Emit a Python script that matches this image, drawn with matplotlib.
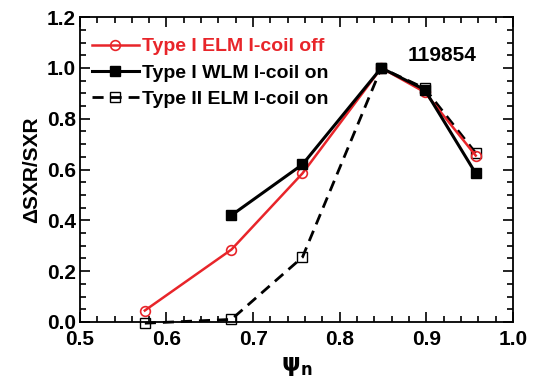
import matplotlib
matplotlib.use("Agg")
import matplotlib.pyplot as plt
from matplotlib.ticker import MultipleLocator, FormatStrFormatter

# data
psi_off = [0.575, 0.675, 0.757, 0.848, 0.898, 0.957]
dsxr_off = [0.045, 0.285, 0.585, 1.0, 0.905, 0.655]

psi_wlm = [0.675, 0.757, 0.848, 0.898, 0.957]
dsxr_wlm = [0.42, 0.62, 1.0, 0.915, 0.585]

psi_t2 = [0.575, 0.675, 0.757, 0.848, 0.898, 0.957]
dsxr_t2 = [-0.005, 0.01, 0.255, 1.0, 0.92, 0.665]

plt.rcParams["font.family"] = ["Liberation Sans", "DejaVu Sans"]
plt.rcParams["font.weight"] = "bold"

fig = plt.figure(figsize=(5.36, 3.81), dpi=100)
ax = fig.add_axes([0.149, 0.155, 0.808, 0.80])

ax.plot(psi_off, dsxr_off, color="#e8252a", lw=1.8, marker="o", ms=7,
        mfc="none", mec="#e8252a", mew=1.2, label="Type I ELM I-coil off", zorder=3)
ax.plot(psi_wlm, dsxr_wlm, color="black", lw=2.2, marker="s", ms=7.5,
        label="Type I WLM I-coil on", zorder=4)
ax.plot(psi_t2, dsxr_t2, color="black", lw=2.0, ls=(0, (4, 2.5)), marker="s", ms=6.5,
        mfc="none", mec="black", mew=1.0, label="Type II ELM I-coil on", zorder=2,
        clip_on=False)

ax.set_xlim(0.5, 1.0)
ax.set_ylim(0.0, 1.2)
ax.xaxis.set_major_locator(MultipleLocator(0.1))
ax.xaxis.set_minor_locator(MultipleLocator(0.02))
ax.yaxis.set_major_locator(MultipleLocator(0.2))
ax.yaxis.set_minor_locator(MultipleLocator(0.05))
ax.xaxis.set_major_formatter(FormatStrFormatter("%.1f"))
ax.yaxis.set_major_formatter(FormatStrFormatter("%.1f"))
ax.tick_params(which="both", direction="in", top=True, right=True, width=1.2)
ax.tick_params(which="major", length=7, labelsize=15)
ax.tick_params(axis="x", which="major", pad=6)
ax.tick_params(axis="y", which="major", pad=3)
ax.tick_params(which="minor", length=4)
for s in ax.spines.values():
    s.set_linewidth(1.3)

ax.set_xlabel(r"$\mathbf{\psi}_\mathbf{n}$", fontsize=17, labelpad=4)
ax.set_ylabel("ΔSXR/SXR", fontsize=15, fontweight="bold", labelpad=4)

ax.text(0.958, 1.05, "119854", fontsize=15, fontweight="bold", ha="right", va="center")

leg = ax.legend(loc="upper left", frameon=False, fontsize=14, handlelength=2.4,
                handletextpad=0.15, borderaxespad=0.0, labelspacing=0.45,
                bbox_to_anchor=(0.01, 0.958))
for t, c in zip(leg.get_texts(), ["#e8252a", "black", "black"]):
    t.set_color(c)
    t.set_fontweight("bold")

fig.savefig("out.png", dpi=100)
